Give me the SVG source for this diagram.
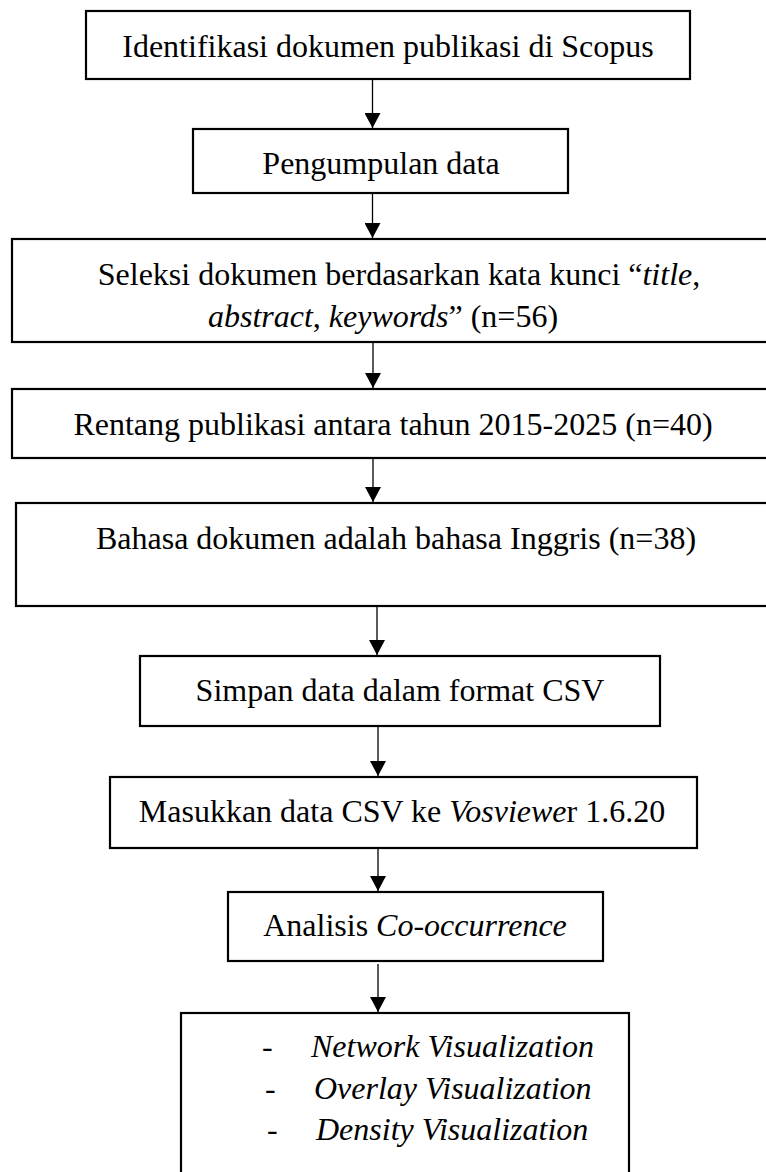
<svg xmlns="http://www.w3.org/2000/svg" width="766" height="1172" viewBox="0 0 766 1172">
<style>
.box{fill:#fff;stroke:#000;stroke-width:2.2}
.t{font-family:"Liberation Serif","Times New Roman",serif;font-size:32px;fill:#000}
.m{text-anchor:middle}
.i{font-style:italic}
.c{stroke:#000;stroke-width:1.3;fill:none}
</style>
<defs>
<marker id="ah" markerWidth="15" markerHeight="16" refX="15" refY="8" orient="auto" markerUnits="userSpaceOnUse">
<path d="M0,0 L15,8 L0,16 z" fill="#000"/>
</marker>
</defs>
<rect x="0" y="0" width="766" height="1172" fill="#fff"/>
<g id="connectors">
<line class="c" x1="372.5" y1="80" x2="372.5" y2="128" marker-end="url(#ah)"/>
<line class="c" x1="372.5" y1="194" x2="372.5" y2="238" marker-end="url(#ah)"/>
<line class="c" x1="373" y1="343" x2="373" y2="388" marker-end="url(#ah)"/>
<line class="c" x1="373" y1="459" x2="373" y2="502" marker-end="url(#ah)"/>
<line class="c" x1="377" y1="607" x2="377" y2="655" marker-end="url(#ah)"/>
<line class="c" x1="378" y1="727" x2="378" y2="776" marker-end="url(#ah)"/>
<line class="c" x1="378" y1="842" x2="378" y2="891" marker-end="url(#ah)"/>
<line class="c" x1="378" y1="964" x2="378" y2="1012" marker-end="url(#ah)"/>
</g>
<g id="n1"><rect class="box" x="86" y="11" width="604" height="68"/>
<text class="t m" x="388" y="57">Identifikasi dokumen publikasi di Scopus</text></g>
<g id="n2"><rect class="box" x="193" y="129" width="375" height="64"/>
<text class="t m" x="381" y="174">Pengumpulan data</text></g>
<g id="n3"><rect class="box" x="12" y="239" width="770" height="103"/>
<text class="t m" x="399" y="285">Seleksi dokumen berdasarkan kata kunci “<tspan class="i">title</tspan>,</text>
<text class="t m" x="383" y="327"><tspan class="i">abstract</tspan>, <tspan class="i">keywords</tspan>” (n=56)</text></g>
<g id="n4"><rect class="box" x="12" y="389" width="770" height="69"/>
<text class="t m" x="393" y="435">Rentang publikasi antara tahun 2015-2025 (n=40)</text></g>
<g id="n5"><rect class="box" x="16" y="503" width="770" height="103"/>
<text class="t m" x="396" y="549">Bahasa dokumen adalah bahasa Inggris (n=38)</text></g>
<g id="n6"><rect class="box" x="140" y="656" width="520" height="70"/>
<text class="t m" x="400" y="701">Simpan data dalam format CSV</text></g>
<g id="n7"><rect class="box" x="110" y="777" width="587" height="71"/>
<text class="t m" x="402" y="822">Masukkan data CSV ke <tspan class="i">Vosviewe</tspan>r 1.6.20</text></g>
<g id="n8"><rect class="box" x="228" y="892" width="375" height="69"/>
<text class="t m" x="415" y="936">Analisis <tspan class="i">Co-occurrence</tspan></text></g>
<g id="n9"><rect class="box" x="181" y="1013" width="448" height="180"/>
<text class="t" x="262" y="1057">-</text>
<text class="t i" x="311" y="1057">Network Visualization</text>
<text class="t" x="265" y="1099">-</text>
<text class="t i" x="314" y="1099">Overlay Visualization</text>
<text class="t" x="267" y="1140">-</text>
<text class="t i" x="316" y="1140">Density Visualization</text></g>
</svg>
